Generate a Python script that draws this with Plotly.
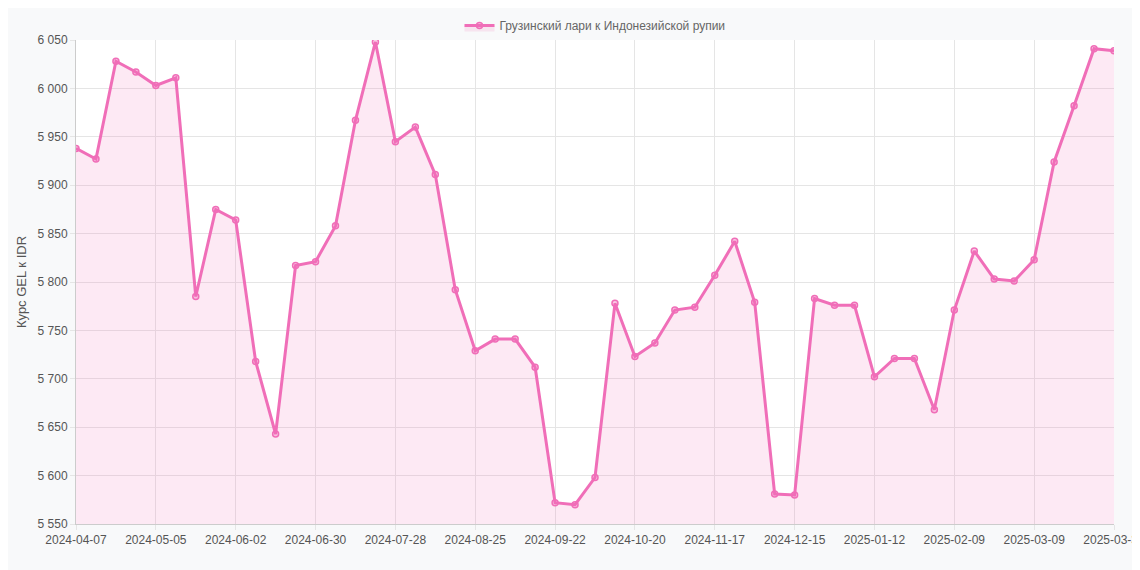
import plotly.graph_objects as go
import datetime as dt

start = dt.date(2024, 4, 7)
dates = [(start + dt.timedelta(weeks=i)).isoformat() for i in range(52)] + ["2025-03-31"]
values = [5938, 5927, 6028, 6017, 6003, 6011, 5785, 5875, 5864, 5718,
          5643, 5817, 5821, 5858, 5967, 6048, 5945, 5960, 5911, 5792,
          5729, 5741, 5741, 5712, 5572, 5570, 5598, 5778, 5723, 5737,
          5771, 5774, 5807, 5842, 5779, 5581, 5580, 5783, 5776, 5776,
          5702, 5721, 5721, 5668, 5771, 5832, 5803, 5801, 5823, 5924,
          5982, 6041, 6039]
tick_labels = dates[0:49:4] + [dates[-1]]

fig = go.Figure(go.Scatter(
    x=dates, y=values, mode="lines+markers", name="Грузинский лари к Индонезийской рупии",
    line=dict(color="#f06eb8", width=3),
    marker=dict(size=6, color="rgba(240,110,184,0.35)", line=dict(color="#f06eb8", width=1.5)),
    fill="tozeroy", fillcolor="rgba(240,110,184,0.15)"))

fig.update_layout(
    width=1140, height=570, paper_bgcolor="#f8f9fa", plot_bgcolor="#ffffff",
    margin=dict(l=68, r=34, t=32, b=54, autoexpand=False), separators=". ",
    font=dict(family="Liberation Sans", size=12, color="#555"),
    showlegend=True,
    legend=dict(orientation="h", x=0.5, xanchor="center", y=1.0, yanchor="bottom",
                font=dict(size=12, color="#666")),
    xaxis=dict(type="category", tickvals=tick_labels, ticktext=tick_labels, tickangle=0,
               showgrid=True, gridcolor="#e5e5e5", showline=True, linecolor="#ccc",
               ticks="outside", tickcolor="#e5e5e5", range=[0, 52], automargin=False),
    yaxis=dict(range=[5550, 6050], dtick=50, tickformat=",d", showgrid=True, gridcolor="#e5e5e5",
               title=dict(text="Курс GEL к IDR", font=dict(size=13), standoff=8), showline=True, linecolor="#ccc",
               ticks="outside", tickcolor="#e5e5e5", automargin=False),
)
fig.write_html("out.html")
